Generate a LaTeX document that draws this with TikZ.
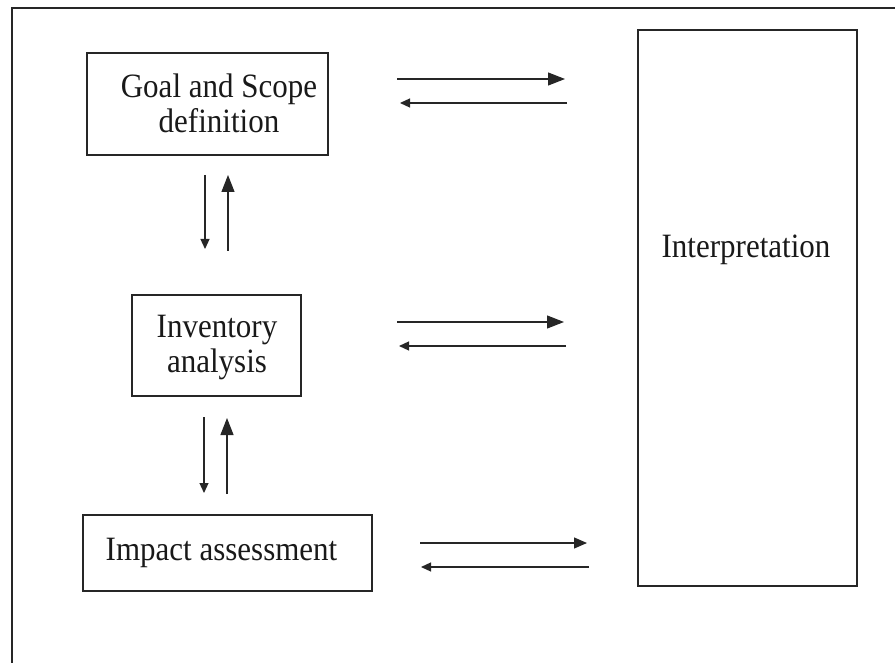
\documentclass[tikz,border=0pt]{standalone}
\usepackage{fontspec}
\usepackage{graphicx}
\setmainfont{Liberation Serif}
\usetikzlibrary{arrows.meta}
\newcommand{\vtext}[1]{\scalebox{1}[1.1]{\begin{tabular}{@{}c@{}}#1\end{tabular}}}
\begin{document}
\begin{tikzpicture}[x=1pt,y=-1pt,
  box/.style={draw=black!85, line width=1.4pt, inner sep=0pt},
  lbl/.style={font=\fontsize{31}{32}\selectfont, align=center, inner sep=0pt, text=black!90},
  conn/.style={draw=black!85, line width=1.2pt},
  bighead/.style={-{Triangle[length=17pt,width=13pt]}},
  midhead/.style={-{Triangle[length=13pt,width=11pt]}},
  smallhead/.style={-{Triangle[length=10pt,width=9pt]}}
]
\useasboundingbox (0,0) rectangle (895,663);
% outer frame (left and top edges visible)
\draw[draw=black!85, line width=1.4pt] (12,663) -- (12,8) -- (895,8);

% boxes
\node[box, minimum width=241pt, minimum height=102pt] (goal) at (207.5,104) {};
\node[lbl] (goalt) at (219,108) {\vtext{Goal and Scope\\definition}};
\node[box, minimum width=169pt, minimum height=101pt] (inv) at (216.5,345.5) {};
\node[lbl] (invt) at (217,348) {\vtext{Inventory\\analysis}};
\node[box, minimum width=289pt, minimum height=76pt] (imp) at (227.5,553) {};
\node[lbl] (impt) at (221.5,553) {\vtext{Impact assessment}};
\node[box, minimum width=219pt, minimum height=556pt] (interp) at (747.5,308) {};
\node[lbl] (interpt) at (746,250) {\vtext{Interpretation}};

% connector end points
\coordinate (r1a) at (397,79);  \coordinate (r1b) at (565,79);
\coordinate (l1a) at (567,103); \coordinate (l1b) at (400,103);
\coordinate (r2a) at (397,322); \coordinate (r2b) at (564,322);
\coordinate (l2a) at (566,346); \coordinate (l2b) at (399,346);
\coordinate (r3a) at (420,543); \coordinate (r3b) at (587,543);
\coordinate (l3a) at (589,567); \coordinate (l3b) at (421,567);
\coordinate (d1a) at (205,175); \coordinate (d1b) at (205,249);
\coordinate (u1a) at (228,251); \coordinate (u1b) at (228,175);
\coordinate (d2a) at (204,417); \coordinate (d2b) at (204,493);
\coordinate (u2a) at (227,494); \coordinate (u2b) at (227,418);

% horizontal arrows
\draw[conn, bighead] (r1a) -- (r1b);
\draw[conn, smallhead] (l1a) -- (l1b);
\draw[conn, bighead] (r2a) -- (r2b);
\draw[conn, smallhead] (l2a) -- (l2b);
\draw[conn, midhead] (r3a) -- (r3b);
\draw[conn, smallhead] (l3a) -- (l3b);
% vertical arrows
\draw[conn, smallhead] (d1a) -- (d1b);
\draw[conn, bighead] (u1a) -- (u1b);
\draw[conn, smallhead] (d2a) -- (d2b);
\draw[conn, bighead] (u2a) -- (u2b);
\end{tikzpicture}
\end{document}
